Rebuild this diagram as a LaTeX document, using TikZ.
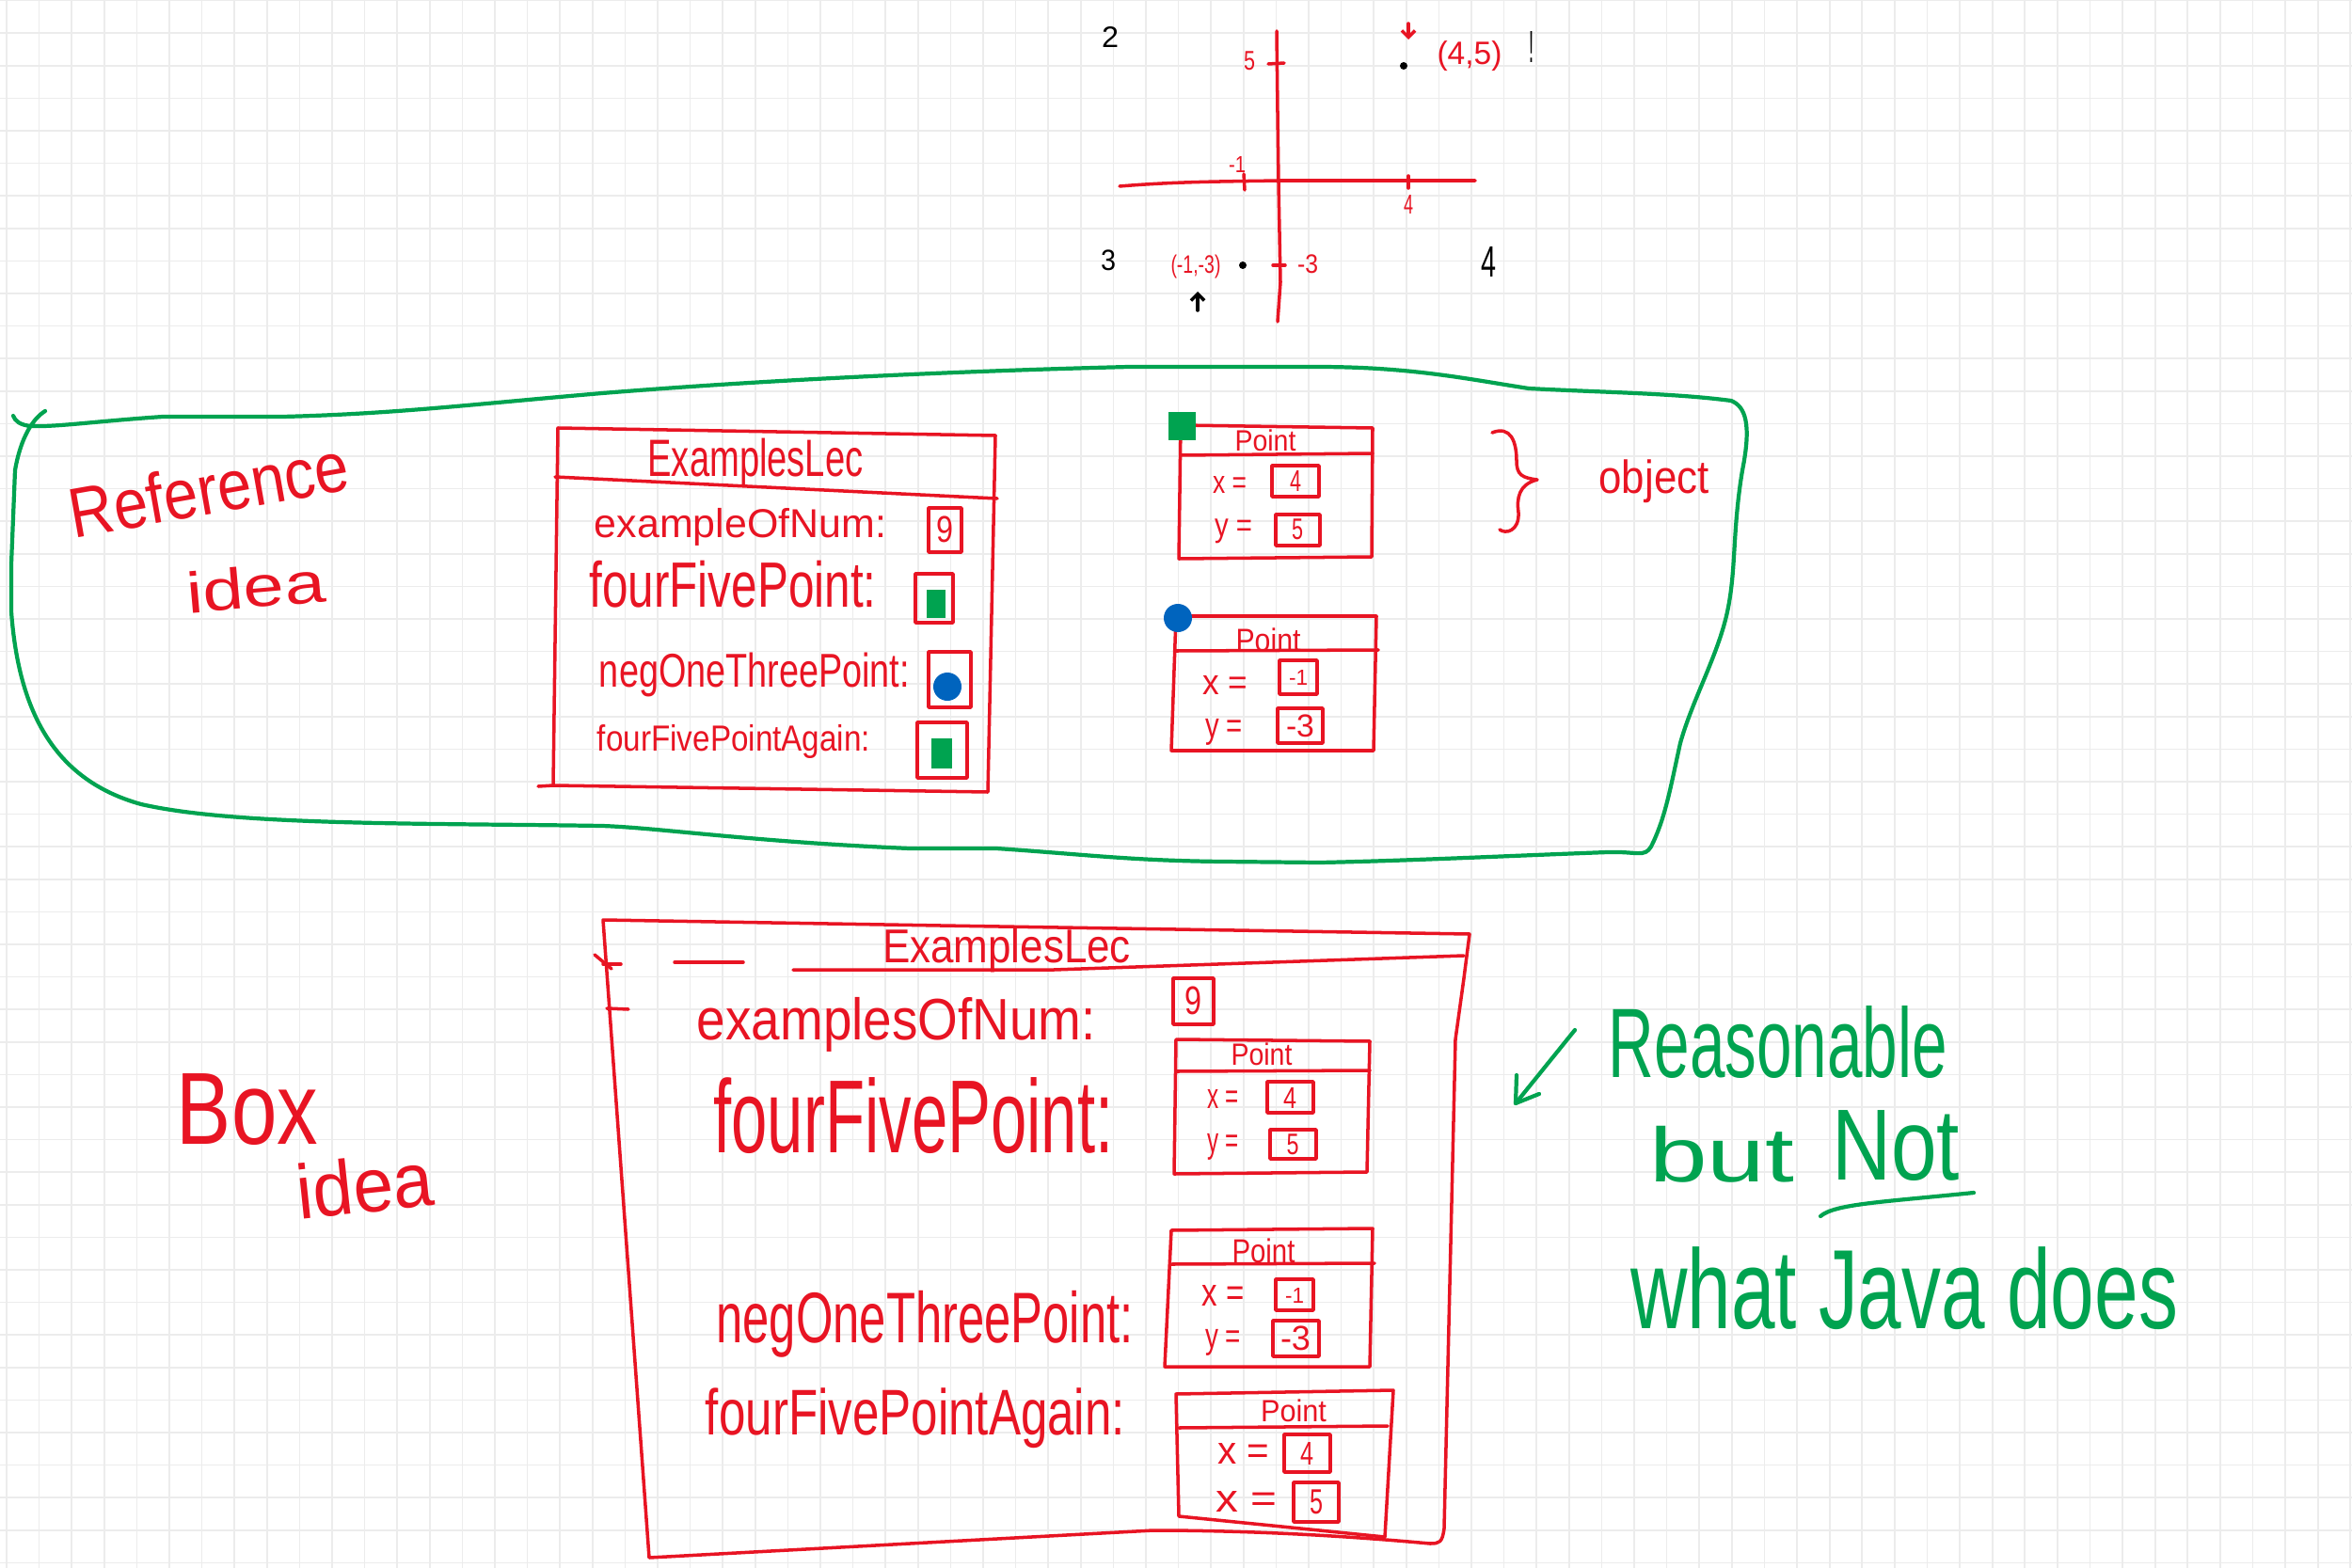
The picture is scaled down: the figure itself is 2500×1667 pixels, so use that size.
\documentclass[tikz,border=0pt]{standalone}
\usepackage{fontspec}
\setmainfont{Liberation Sans}
\usepackage{graphicx}
\usetikzlibrary{arrows.meta}
\newlength{\pxu}\setlength{\pxu}{0.1mm}
\newcommand{\hw}[3]{\resizebox*{#1\pxu}{#2\pxu}{#3}}
\definecolor{penred}{RGB}{232,20,35}
\definecolor{pengreen}{RGB}{0,163,80}
\definecolor{penblue}{RGB}{0,100,190}
\definecolor{gridc}{RGB}{236,236,236}
\begin{document}
\begin{tikzpicture}[x=0.1mm,y=-0.1mm,line cap=round,line join=round,
  redpen/.style={draw=penred,line width=1pt},
  greenpen/.style={draw=pengreen,line width=1.2pt},
  blackpen/.style={draw=black,line width=1pt},
  txt/.style={inner sep=0pt,outer sep=0pt},
  rtxt/.style={txt,text=penred},
  gtxt/.style={txt,text=pengreen},
  ktxt/.style={txt,text=black},
  gfill/.style={fill=pengreen},
  bfill/.style={fill=penblue}]
\useasboundingbox (0,0) rectangle (2500,1667);
\fill[white] (0,0) rectangle (2500,1667);
% grid paper
\foreach \i in {0,...,72} \draw[gridc,line width=0.5pt] ({7+34.6*\i},0) -- ({7+34.6*\i},1667);
\foreach \j in {0,...,48} \draw[gridc,line width=0.5pt] (0,{0.6+34.6*\j}) -- (2500,{0.6+34.6*\j});

% ---------------- coordinate sketch ----------------
\draw[redpen] (1357,33) -- (1358,120) -- (1359,195) -- (1361,300) -- (1358,342);
\draw[redpen] (1190,198) .. controls (1250,193) and (1300,193) .. (1360,192) -- (1568,192);
\draw[redpen] (1348,68) -- (1365,67);
\draw[redpen] (1322,185) -- (1323,202);
\draw[redpen] (1497,187) -- (1497,200);
\draw[redpen] (1353,282) -- (1366,282);
\node[ktxt] (q2) at (1180,40) {\hw{18}{22}{2}};
\node[ktxt] (q3) at (1178,277) {\hw{16}{22}{3}};
\node[ktxt] (q4) at (1582,278) {\hw{16}{32}{4}};
\node[ktxt] (q1) at (1628,50) {\hw{5}{33}{!}};
\node[rtxt] (y5) at (1328,65) {\hw{12}{20}{5}};
\node[rtxt] (xm1) at (1315,175) {\hw{18}{17}{-1}};
\node[rtxt] (x4) at (1497,218) {\hw{10}{20}{4}};
\node[rtxt] (ym3) at (1390,281) {\hw{22}{20}{-3}};
\node[rtxt] (p45) at (1562,60) {\hw{69}{32}{(4,5)}};
\node[rtxt] (pm13) at (1271,284) {\hw{53}{25}{(-1,-3)}};
\fill (1492,70) circle[radius=4];
\fill (1321,282) circle[radius=4];
\coordinate (ar1s) at (1497,25); \coordinate (ar1e) at (1497,42);
\draw[redpen,-{Straight Barb[length=2pt,width=4pt]}] (ar1s) -- (ar1e);
\coordinate (ar2s) at (1273,330); \coordinate (ar2e) at (1273,310);
\draw[blackpen,-{Straight Barb[length=2pt,width=4pt]}] (ar2s) -- (ar2e);

% ---------------- reference idea region ----------------
\draw[greenpen] (48,437) .. controls (35,445) and (22,465) .. (16,500) -- (12,600) -- (12,650)
  .. controls (20,760) and (60,830) .. (150,855) .. controls (250,878) and (450,875) .. (640,878)
  .. controls (700,880) and (800,895) .. (967,902) -- (1059,902) .. controls (1150,908) and (1200,915) .. (1300,916)
  -- (1403,917) .. controls (1500,915) and (1600,910) .. (1709,906) .. controls (1740,905) and (1748,912) .. (1755,900)
  .. controls (1770,870) and (1775,840) .. (1786,790) .. controls (1800,740) and (1830,690) .. (1838,640)
  .. controls (1845,600) and (1842,560) .. (1852,500) .. controls (1862,450) and (1855,432) .. (1840,426)
  .. controls (1780,418) and (1700,417) .. (1625,413) .. controls (1560,403) and (1500,390) .. (1400,390)
  -- (1200,390) .. controls (1000,395) and (800,405) .. (640,418) .. controls (500,430) and (420,440) .. (300,443)
  -- (173,443) .. controls (100,448) and (60,454) .. (33,453) .. controls (22,452) and (16,448) .. (14,442);
\node[rtxt,rotate=10] (refword) at (222,520) {\hw{300}{55}{Reference}};
\node[rtxt,rotate=5] (refidea) at (272,624) {\hw{147}{45}{idea}};

% ExamplesLec (reference)
\draw[redpen] (593,455) -- (1058,463) -- (1050,842) -- (588,835) -- cycle;
\draw[redpen] (572,836) -- (588,835);
\draw[redpen] (590,507) -- (1060,530);
\node[rtxt] (elt) at (803,492) {\hw{229}{52}{ExamplesLec}};
\node[rtxt] (f1) at (787,560) {\hw{310}{40}{exampleOfNum:}};
\node[rtxt] (f2) at (779,621) {\hw{305}{50}{fourFivePoint:}};
\node[rtxt] (f3) at (802,717) {\hw{330}{47}{negOneThreePoint:}};
\node[rtxt] (f4) at (780,789) {\hw{290}{36}{fourFivePointAgain:}};
\draw[redpen] (987,540) rectangle (1022,587);
\node[rtxt] (v9) at (1004,563) {\hw{18}{28}{9}};
\draw[redpen] (973,610) rectangle (1013,662);
\fill[gfill] (985,627) rectangle (1005,657);
\draw[redpen] (987,693) rectangle (1032,752);
\fill[bfill] (1007,730) circle[radius=15];
\draw[redpen] (975,768) rectangle (1028,827);
\fill[gfill] (990,785) rectangle (1012,817);

% Point objects (reference)
\draw[redpen] (1255,452) -- (1459,455) -- (1458,592) -- (1253,594) -- cycle;
\draw[redpen] (1255,484) -- (1459,482);
\node[rtxt] (pt1) at (1345,468) {\hw{65}{23}{Point}};
\node[rtxt] (pt1x) at (1307,515) {\hw{36}{18}{x =}};
\draw[redpen] (1352,495) rectangle (1402,528);
\node[rtxt] (pt1xv) at (1377,511) {\hw{12}{22}{4}};
\node[rtxt] (pt1y) at (1311,565) {\hw{40}{26}{y =}};
\draw[redpen] (1356,547) rectangle (1403,580);
\node[rtxt] (pt1yv) at (1379,563) {\hw{12}{22}{5}};
\fill[gfill] (1242,438) rectangle (1271,468);

\draw[redpen] (1250,655) -- (1463,655) -- (1460,798) -- (1245,798) -- cycle;
\draw[redpen] (1250,692) -- (1465,691);
\node[rtxt] (pt2) at (1348,680) {\hw{69}{25}{Point}};
\node[rtxt] (pt2x) at (1302,728) {\hw{48}{20}{x =}};
\draw[redpen] (1360,702) rectangle (1400,738);
\node[rtxt] (pt2xv) at (1380,720) {\hw{20}{16}{-1}};
\node[rtxt] (pt2y) at (1301,778) {\hw{40}{28}{y =}};
\draw[redpen] (1358,753) rectangle (1406,790);
\node[rtxt] (pt2yv) at (1382,772) {\hw{30}{24}{-3}};
\fill[bfill] (1252,657) circle[radius=15];

\draw[redpen] (1586,460) .. controls (1606,452) and (1612,470) .. (1612,490)
  .. controls (1612,505) and (1618,508) .. (1634,510)
  .. controls (1614,515) and (1612,530) .. (1614,545)
  .. controls (1615,565) and (1600,568) .. (1594,563);
\node[rtxt] (obj) at (1758,512) {\hw{117}{46}{object}};

% ---------------- box idea ----------------
\node[rtxt] (boxw) at (263,1180) {\hw{150}{76}{Box}};
\node[rtxt,rotate=6] (boxidea) at (388,1260) {\hw{145}{60}{idea}};

\draw[redpen] (641,978) -- (1000,984) -- (1562,993) -- (1556,1040) -- (1547,1105)
  -- (1535,1625) .. controls (1533,1640) and (1530,1641) .. (1520,1641)
  .. controls (1400,1630) and (1300,1627) .. (1226,1627) -- (690,1656) -- cycle;
\draw[redpen] (641,1025) -- (660,1025);
\draw[redpen] (717,1023) -- (790,1023);
\draw[redpen] (843,1031) -- (1120,1031) -- (1556,1016);
\draw[redpen] (645,1072) -- (668,1073);
\draw[redpen] (632,1015) -- (650,1030);
\node[rtxt] (blt) at (1070,1010) {\hw{264}{47}{ExamplesLec}};
\node[rtxt] (b1) at (953,1089) {\hw{424}{58}{examplesOfNum:}};
\node[rtxt] (b2) at (971,1186) {\hw{425}{81}{fourFivePoint:}};
\node[rtxt] (b3) at (983,1408) {\hw{443}{71}{negOneThreePoint:}};
\node[rtxt] (b4) at (973,1508) {\hw{446}{64}{fourFivePointAgain:}};
\draw[redpen] (1247,1040) rectangle (1290,1089);
\node[rtxt] (bv9) at (1268,1064) {\hw{18}{30}{9}};

\draw[redpen] (1250,1105) -- (1456,1107) -- (1453,1246) -- (1248,1248) -- cycle;
\draw[redpen] (1250,1139) -- (1456,1138);
\node[rtxt] (bp1) at (1341,1121) {\hw{65}{24}{Point}};
\node[rtxt] (bp1x) at (1300,1168) {\hw{33}{20}{x =}};
\draw[redpen] (1347,1150) rectangle (1396,1183);
\node[rtxt] (bp1xv) at (1371,1167) {\hw{14}{22}{4}};
\node[rtxt] (bp1y) at (1300,1219) {\hw{33}{28}{y =}};
\draw[redpen] (1350,1201) rectangle (1399,1232);
\node[rtxt] (bp1yv) at (1374,1217) {\hw{13}{22}{5}};

\draw[redpen] (1245,1308) -- (1459,1306) -- (1456,1453) -- (1238,1453) -- cycle;
\draw[redpen] (1245,1344) -- (1461,1343);
\node[rtxt] (bp2) at (1343,1330) {\hw{67}{26}{Point}};
\node[rtxt] (bp2x) at (1300,1377) {\hw{45}{22}{x =}};
\draw[redpen] (1356,1360) rectangle (1396,1393);
\node[rtxt] (bp2xv) at (1376,1377) {\hw{20}{16}{-1}};
\node[rtxt] (bp2y) at (1300,1427) {\hw{38}{28}{y =}};
\draw[redpen] (1353,1404) rectangle (1402,1442);
\node[rtxt] (bp2yv) at (1377,1423) {\hw{32}{26}{-3}};

\draw[redpen] (1250,1482) -- (1481,1478) -- (1472,1634) -- (1253,1612) -- cycle;
\draw[redpen] (1253,1518) -- (1475,1516);
\node[rtxt] (bp3) at (1375,1500) {\hw{70}{24}{Point}};
\node[rtxt] (bp3x) at (1322,1545) {\hw{55}{22}{x =}};
\draw[redpen] (1365,1525) rectangle (1414,1565);
\node[rtxt] (bp3xv) at (1389,1545) {\hw{14}{24}{4}};
\node[rtxt] (bp3y) at (1325,1596) {\hw{65}{22}{x =}};
\draw[redpen] (1375,1576) rectangle (1423,1618);
\node[rtxt] (bp3yv) at (1399,1597) {\hw{14}{26}{5}};

% ---------------- green remark ----------------
\node[gtxt] (rs) at (1890,1108) {\hw{360}{77}{Reasonable}};
\node[gtxt] (rbut) at (1830,1227) {\hw{154}{60}{but}};
\node[gtxt] (rnot) at (2015,1218) {\hw{136}{75}{Not}};
\draw[greenpen] (1935,1293) .. controls (1950,1280) and (2000,1278) .. (2098,1268);
\node[gtxt] (rjava) at (2024,1370) {\hw{582}{88}{what Java does}};
\coordinate (gas) at (1674,1095); \coordinate (gat) at (1611,1173);
\draw[greenpen] (gas) -- (gat);
\draw[greenpen] (1612,1143) -- (gat) -- (1636,1163);
\end{tikzpicture}
\end{document}
